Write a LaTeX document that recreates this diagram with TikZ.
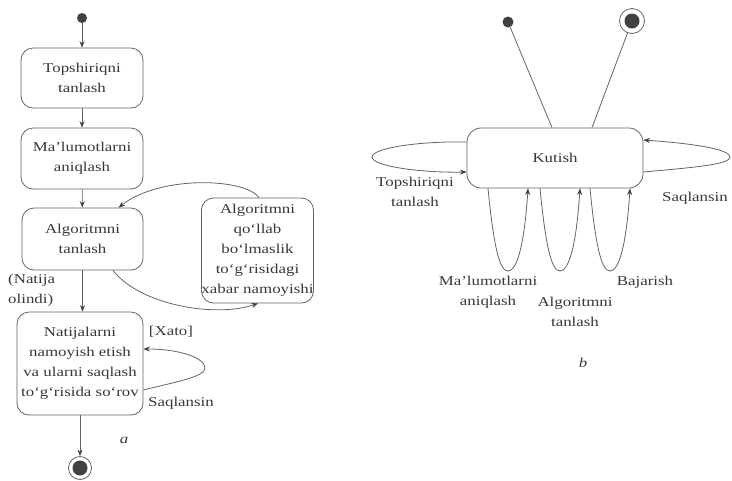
\documentclass[tikz,border=0pt]{standalone}
\usepackage{fontspec}
\setmainfont[FakeStretch=1.25]{Liberation Serif}
\usetikzlibrary{arrows.meta,calc}
\definecolor{linec}{RGB}{100,100,100}
\definecolor{textc}{RGB}{55,55,55}
\definecolor{dotc}{RGB}{65,65,65}
\begin{document}
\begin{tikzpicture}[x=1pt,y=-1pt,
  every node/.style={text=textc, font=\fontsize{13.5}{20}\selectfont},
  state/.style={draw=linec, line width=0.8pt, rounded corners=12pt, align=center, inner sep=0pt},
  conn/.style={draw=linec, line width=0.8pt},
  arr/.style={conn, -{Stealth[length=6.5pt,width=5pt,color=dotc]}},
  startdot/.style={circle, fill=dotc, minimum size=10pt, inner sep=0pt},
  enddot/.style={circle, draw=linec, line width=0.8pt, minimum size=23pt, inner sep=0pt,
    path picture={\fill[dotc] (path picture bounding box.center) circle[radius=7.5pt];}},
  lbl/.style={align=center, inner sep=0pt},
  ital/.style={font=\fontsize{13.5}{20}\selectfont\itshape}
]
\useasboundingbox (0,0) rectangle (732,480);

% ---------- diagram a ----------
\node[startdot] (i1) at (82,18) {};
\node[state, minimum width=122pt, minimum height=60pt] (b1) at (82,78) {Topshiriqni\\tanlash};
\node[state, minimum width=122pt, minimum height=61pt] (b2) at (82,158.5) {Ma’lumotlarni\\aniqlash};
\node[state, minimum width=121pt, minimum height=62pt] (b3) at (82.5,239) {Algoritmni\\tanlash};
\node[state, minimum width=126pt, minimum height=103pt] (b4) at (80,363.5) {Natijalarni\\namoyish etish\\va ularni saqlash\\to‘g‘risida so‘rov};
\node[state, minimum width=109pt, minimum height=105pt] (b5) at (257.5,250.5) {Algoritmni\\qo‘llab\\bo‘lmaslik\\to‘g‘risidagi\\xabar namoyishi};
\node[enddot] (f1) at (80,468) {};

\node[lbl, anchor=west, align=left] (natija) at (8,290) {(Natija\\olindi)};
\node[lbl] (xato) at (171,332) {[Xato]};
\node[lbl] (saq1) at (181,403) {Saqlansin};
\node[lbl, ital] (capa) at (124,440) {a};

\draw[arr] (i1) -- (b1);
\draw[arr] (b1) -- (b2);
\draw[arr] (b2) -- (b3);
\draw[arr] (b3.south) -- (b3.south |- b4.north);
\draw[arr] (b4.south) -- (f1);
\draw[arr] ($(b5.north)+(1.5,0)$) .. controls (245,178) and (160,175) .. ($(b3.north)+(36,0)$);
\draw[arr] ($(b3.south)+(30.5,0)$) .. controls (140,305) and (215,318) .. ($(b5.south)+(0.5,0)$);
\draw[arr] ($(b4.east)+(0,26.5)$) .. controls (175,382) and (205,377) .. (205,368)
   .. controls (205,358) and (180,349) .. ($(b4.east)+(0,-14.5)$);

% ---------- diagram b ----------
\node[startdot, minimum size=11pt] (i2) at (508,22) {};
\node[enddot, minimum size=25pt] (f2) at (632,21) {};
\node[state, rounded corners=14pt, minimum width=176pt, minimum height=60pt] (k) at (555,158) {Kutish};

\node[lbl] (lt) at (415,192) {Topshiriqni\\tanlash};
\node[lbl] (ls) at (695,198) {Saqlansin};
\node[lbl] (lm) at (488,292) {Ma’lumotlarni\\aniqlash};
\node[lbl] (lal) at (575,312) {Algoritmni\\tanlash};
\node[lbl] (lbj) at (645,282) {Bajarish};
\node[lbl, ital] (capb) at (583,363) {b};

\draw[conn] (i2) -- ($(k.north)+(-3,0)$);
\draw[conn] (f2) -- ($(k.north)+(37,0)$);
\draw[arr] ($(k.west)+(0,-16)$) .. controls (420,141) and (372,148) .. (372,157)
   .. controls (372,166) and (420,173) .. ($(k.west)+(0,14)$);
\draw[arr] ($(k.east)+(0,14)$) .. controls (700,167) and (730,164) .. (730,157)
   .. controls (730,150) and (700,144) .. ($(k.east)+(0,-18)$);
\draw[arr] ($(k.south)+(-67,0)$) .. controls (494,250) and (500,271) .. (508,271)
   .. controls (516,271) and (524,250) .. ($(k.south)+(-27,0)$);
\draw[arr] ($(k.south)+(-15,0)$) .. controls (546,250) and (552,271) .. (560,271)
   .. controls (568,271) and (576,250) .. ($(k.south)+(25,0)$);
\draw[arr] ($(k.south)+(35,0)$) .. controls (596,250) and (602,271) .. (610,271)
   .. controls (618,271) and (626,250) .. ($(k.south)+(75,0)$);
\end{tikzpicture}
\end{document}
